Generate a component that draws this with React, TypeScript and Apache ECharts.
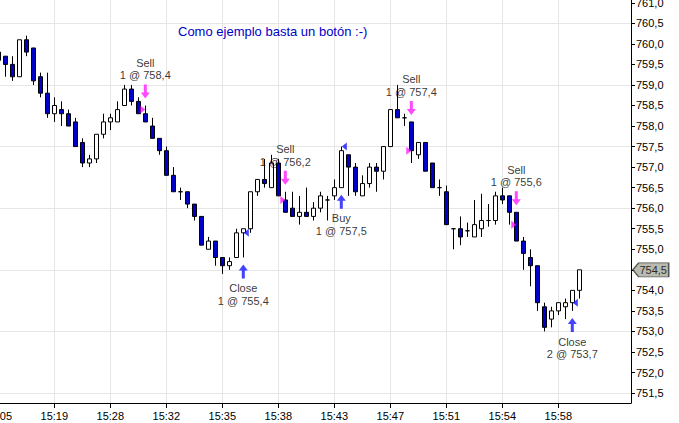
import React, { useEffect, useRef } from 'react';
import * as echarts from 'echarts';

// Bars are numbered from firstBar (the partly hidden one at the left edge)
const firstBar = -1;
const opens = [
  759.8, 759.7, 759.5, 759.2, 760.1, 759.9, 759.2, 758.8, 758.3, 758.4,
  758.3, 758.1, 757.6, 757.1, 757.2, 757.8, 758.1, 758.1, 758.5, 758.9,
  758.6, 758.3, 758.0, 757.7, 757.4, 756.8, 756.4, 756.4, 756.1, 755.8,
  755.0, 755.2, 754.8, 754.6, 754.8, 755.4, 755.5, 756.4, 756.7, 756.5,
  757.1, 756.2, 756.0, 755.8, 755.9, 755.8, 756.0, 756.2, 756.3, 756.5,
  757.3, 757.0, 756.3, 756.6, 757.0, 756.9, 757.5, 758.4, 758.2, 758.1,
  757.3, 757.6, 757.1, 756.5, 756.4, 755.5, 755.5, 755.45, 755.3, 755.5,
  755.7, 755.7, 756.3, 756.3, 755.9, 755.2, 754.8, 754.6, 753.6, 753.3,
  753.5, 753.6, 753.7, 754.0,
];
const closes = [
  759.6, 759.5, 759.2, 760.1, 759.8, 759.1, 758.8, 758.3, 758.5, 758.3,
  758.0, 757.5, 757.1, 757.2, 757.8, 758.1, 758.2, 758.4, 758.9, 758.6,
  758.3, 758.1, 757.7, 757.4, 756.8, 756.4, 756.4, 756.1, 755.8, 755.1,
  755.2, 754.8, 754.6, 754.7, 755.4, 755.5, 756.4, 756.7, 756.6, 757.1,
  756.3, 755.9, 755.8, 755.9, 755.8, 756.0, 756.3, 756.2, 756.5, 757.4,
  757.0, 756.4, 756.6, 757.0, 756.9, 757.5, 758.4, 758.2, 758.2, 757.4,
  757.6, 756.9, 756.5, 756.5, 755.6, 755.5, 755.3, 755.45, 755.6, 755.7,
  755.7, 756.3, 756.2, 755.9, 755.2, 754.9, 754.6, 753.7, 753.1, 753.5,
  753.7, 753.7, 754.0, 754.5,
];
const lows = [
  759.5, 759.2, 759.1, 759.2, 759.7, 759.0, 758.7, 758.2, 758.1, 758.0,
  758.0, 757.5, 757.0, 757.0, 757.1, 757.7, 757.9, 758.1, 758.5, 758.5,
  758.3, 758.1, 757.7, 757.3, 756.8, 756.4, 756.2, 756.0, 755.7, 755.1,
  755.0, 754.6, 754.4, 754.5, 754.8, 754.8, 755.4, 756.3, 756.5, 756.5,
  756.3, 755.9, 755.8, 755.6, 755.8, 755.7, 755.9, 755.7, 756.2, 756.5,
  756.3, 756.3, 756.3, 756.5, 756.4, 756.7, 757.5, 758.2, 758.0, 757.1,
  757.2, 756.9, 756.5, 756.3, 755.6, 755.0, 755.1, 755.3, 755.3, 755.3,
  755.55, 755.6, 756.1, 755.6, 755.2, 754.5, 754.1, 753.5, 753.0, 753.1,
  753.4, 753.3, 753.5, 753.8,
];
const highs = [
  759.85, 759.7, 759.7, 760.1, 760.2, 759.9, 759.3, 759.3, 758.7, 758.6,
  758.4, 758.2, 757.7, 757.3, 757.8, 758.3, 758.3, 758.6, 759.0, 759.0,
  758.7, 758.5, 758.2, 757.7, 757.5, 757.0, 756.5, 756.4, 756.1, 755.8,
  755.3, 755.2, 754.8, 754.8, 755.5, 755.5, 756.4, 756.7, 757.2, 757.3,
  757.2, 756.4, 756.4, 756.3, 756.5, 756.15, 756.4, 756.3, 756.7, 757.5,
  757.3, 757.1, 756.8, 757.1, 757.1, 757.5, 758.4, 759.0, 758.3, 758.1,
  757.6, 757.6, 757.1, 756.7, 756.55, 755.5, 755.8, 755.65, 756.2, 756.35,
  756.1, 756.4, 756.5, 756.3, 755.9, 755.3, 755.0, 754.6, 753.7, 753.6,
  753.7, 753.8, 754.0, 754.5,
];

const timeLabels = ['15:05', '15:19', '15:28', '15:32', '15:35', '15:38', '15:43', '15:47', '15:51', '15:54', '15:58'];
const timeLabelBars = [-1, 7, 15, 23, 31, 39, 47, 55, 63, 71, 79];
const priceTicks = [
  751.5, 752.0, 752.5, 753.0, 753.5, 754.0, 754.5, 755.0, 755.5, 756.0,
  756.5, 757.0, 757.5, 758.0, 758.5, 759.0, 759.5, 760.0, 760.5, 761.0,
];
const priceGrid = [751.5, 753.0, 754.5, 756.0, 757.5, 759.0, 760.5];

const sellBars = [20, 40, 58, 73];
const sellPrices = [758.4, 756.2, 757.4, 755.6];
const sellQty = [1, 1, 1, 1];
const buyBars = [34, 48, 81];
const buyPrices = [755.4, 757.5, 753.7];
const buyQty = [1, 1, 2];
const buyNames = ['Close', 'Buy', 'Close'];

const title = 'Como ejemplo basta un botón :-)';

const X_MIN = -1.757;
const X_MAX = 89.386;
const Y_MIN = 751.258;
const Y_MAX = 761.068;

const FONT = 'Arial, "Liberation Sans", sans-serif';
const BLUE = '#0000c8';
const MAGENTA = '#ff1aff';
const ARROW_BLUE = '#1414ff';
const fmt = (v: number) => v.toFixed(1).replace('.', ',');

export default function App() {
  const ref = useRef<HTMLDivElement>(null);
  useEffect(() => {
    const chart = echarts.init(ref.current!, null, { renderer: 'svg' });
    const at = (k: number) => k - firstBar;
    const candles = opens.map((o, i) => [firstBar + i, o, closes[i], lows[i], highs[i]]);
    const sellAnchors = sellBars.map((k) => [k, highs[at(k)]]);
    const buyAnchors = buyBars.map((k) => [k, lows[at(k)]]);
    const sellFills = sellBars.map((k, i) => [k, sellPrices[i]]);
    const buyFills = buyBars.map((k, i) => [k, buyPrices[i]]);
    const lastPrice = closes[closes.length - 1];
    const labelValues = priceTicks.filter((v) => Math.abs(v - lastPrice) > 1e-9);

    const textLabel = {
      show: true,
      color: '#000',
      fontSize: 11,
      fontFamily: FONT,
      lineHeight: 12.5,
      align: 'center',
      verticalAlign: 'middle',
    };

    chart.setOption({
      animation: false,
      backgroundColor: '#ffffff',
      grid: { left: -7, right: 48, top: 0, bottom: 20, containLabel: false, outerBoundsMode: 'none' },
      graphic: [
        {
          type: 'text',
          left: 178,
          top: 25,
          z: 20,
          style: { text: title, fill: BLUE, font: `13px ${FONT}` },
        },
      ],
      xAxis: {
        type: 'value',
        min: X_MIN,
        max: X_MAX,
        axisLine: { show: true, onZero: false, lineStyle: { color: '#000', width: 1 } },
        axisTick: { show: true, length: 5, customValues: timeLabelBars, lineStyle: { color: '#000' } },
        axisLabel: {
          customValues: timeLabelBars,
          formatter: (v: number) => {
            const i = timeLabelBars.indexOf(Math.round(v));
            return i >= 0 ? timeLabels[i] : '';
          },
          color: '#000',
          fontSize: 11,
          fontFamily: FONT,
          margin: 7,
        },
        splitLine: { show: true, lineStyle: { color: '#e6e6e6', width: 1 } },
      },
      yAxis: [
        {
          type: 'value',
          position: 'right',
          min: Y_MIN,
          max: Y_MAX,
          axisLine: { show: true, onZero: false, lineStyle: { color: '#000', width: 1 } },
          axisTick: { show: true, length: 4, customValues: priceTicks, lineStyle: { color: '#000' } },
          axisLabel: {
            customValues: labelValues,
            formatter: (v: number) => fmt(v),
            color: '#000',
            fontSize: 11,
            fontFamily: FONT,
            margin: 5,
          },
          splitLine: { show: false },
        },
        {
          type: 'value',
          position: 'left',
          min: Y_MIN,
          max: Y_MAX,
          axisLine: { show: false, onZero: false },
          axisTick: { show: false, customValues: priceGrid },
          axisLabel: { show: false, customValues: priceGrid },
          splitLine: { show: true, lineStyle: { color: '#e6e6e6', width: 1 } },
        },
      ],
      series: [
        {
          type: 'candlestick',
          xAxisIndex: 0,
          yAxisIndex: 0,
          data: candles,
          barWidth: 4,
          itemStyle: {
            color: '#ffffff',
            color0: BLUE,
            borderColor: '#000',
            borderColor0: '#000',
            borderColorDoji: '#000',
            borderWidth: 1,
          },
          z: 3,
        },
        {
          type: 'scatter',
          yAxisIndex: 0,
          data: sellAnchors,
          symbol: 'path://M3,0L6,0L6,8L9,8L4.5,14L0,8L3,8Z',
          symbolSize: [9, 14],
          symbolOffset: [0, -14],
          itemStyle: { color: MAGENTA },
          silent: true,
          clip: false,
          z: 5,
        },
        {
          type: 'scatter',
          yAxisIndex: 0,
          data: buyAnchors,
          symbol: 'path://M4.5,0L9,6L6,6L6,14L3,14L3,6L0,6Z',
          symbolSize: [9, 14],
          symbolOffset: [0, 14],
          itemStyle: { color: ARROW_BLUE },
          silent: true,
          clip: false,
          z: 5,
        },
        {
          type: 'scatter',
          yAxisIndex: 0,
          data: sellFills,
          symbol: 'path://M0,0L5,4L0,8Z',
          symbolSize: [5, 8],
          symbolOffset: [-2.5, 0],
          itemStyle: { color: MAGENTA },
          silent: true,
          z: 6,
        },
        {
          type: 'scatter',
          yAxisIndex: 0,
          data: buyFills,
          symbol: 'path://M5,0L0,4L5,8Z',
          symbolSize: [5, 8],
          symbolOffset: [3, 0],
          itemStyle: { color: ARROW_BLUE },
          silent: true,
          z: 6,
        },
        {
          type: 'scatter',
          yAxisIndex: 0,
          data: sellAnchors,
          symbol: 'rect',
          symbolSize: 1,
          itemStyle: { color: 'rgba(0,0,0,0)' },
          silent: true,
          clip: false,
          z: 7,
          label: {
            ...textLabel,
            position: [0.5, -36],
            formatter: (p: any) => `Sell\n${sellQty[p.dataIndex]} @ ${fmt(sellPrices[p.dataIndex])}`,
          },
        },
        {
          type: 'scatter',
          yAxisIndex: 0,
          data: buyAnchors,
          symbol: 'rect',
          symbolSize: 1,
          itemStyle: { color: 'rgba(0,0,0,0)' },
          silent: true,
          clip: false,
          z: 7,
          label: {
            ...textLabel,
            position: [0.5, 37.5],
            formatter: (p: any) => `${buyNames[p.dataIndex]}\n${buyQty[p.dataIndex]} @ ${fmt(buyPrices[p.dataIndex])}`,
          },
        },
        {
          type: 'scatter',
          yAxisIndex: 0,
          data: [[X_MAX, lastPrice]],
          symbol: 'path://M0,7L6,0L36,0L36,14L6,14Z',
          symbolSize: [36, 14],
          symbolOffset: [19.7, 0],
          itemStyle: { color: '#a9a99a', borderColor: '#333', borderWidth: 1 },
          silent: true,
          clip: false,
          z: 10,
          label: {
            show: true,
            position: 'inside',
            offset: [2.5, 0],
            formatter: () => fmt(lastPrice),
            color: '#000',
            fontSize: 11,
            fontFamily: FONT,
          },
        },
      ],
    });
    return () => chart.dispose();
  }, []);
  return (
    <div
      ref={ref}
      style={{ position: 'absolute', left: 0, top: 0, width: 679, height: 423, background: '#fff' }}
    />
  );
}
